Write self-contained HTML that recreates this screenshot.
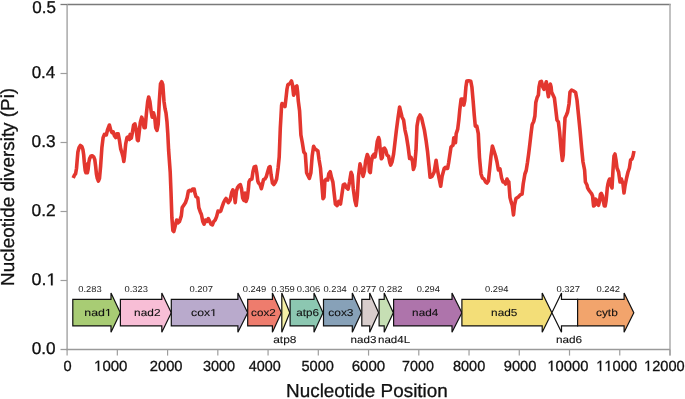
<!DOCTYPE html>
<html><head><meta charset="utf-8"><style>
html,body{margin:0;padding:0;background:#fff;width:685px;height:399px;overflow:hidden}
svg{display:block;will-change:transform}
text{font-family:"Liberation Sans",sans-serif;fill:#111;text-rendering:geometricPrecision;font-kerning:none}
.g1 path{fill:#111}
.gv path{fill:#222}
.gl{fill:#111;stroke:#111;stroke-width:0.1px}
.yt,.xt,.at{stroke:#111;stroke-width:0.3px}
.gv{fill:#222}
</style></head><body>
<svg width="685" height="399" viewBox="0 0 685 399">
<line x1="67.1" y1="4.5" x2="670.7" y2="4.5" stroke="#7a7a7a" stroke-width="1.3"/>
<line x1="67.1" y1="3.9" x2="67.1" y2="350.2" stroke="#a2a2a2" stroke-width="1.4"/>
<line x1="670.0" y1="3.9" x2="670.0" y2="355.6" stroke="#acacac" stroke-width="1.5"/>
<line x1="66.39999999999999" y1="349.5" x2="670.0" y2="349.5" stroke="#9a9a9a" stroke-width="1.4"/>
<line x1="60.5" y1="349.50" x2="67.1" y2="349.50" stroke="#9a9a9a" stroke-width="1.3"/>
<text transform="translate(31.63,354.30) scale(1.007,1)" class="yt" style="font-size:17.1px">0.0</text>
<line x1="60.5" y1="280.50" x2="67.1" y2="280.50" stroke="#9e9e9e" stroke-width="1.2"/>
<g transform="translate(31.60,285.30) scale(1.046,1)" class="yt g1" style="font-size:17.1px"><text x="0.000" y="0">0.</text><path d="M18.561,0.000 L18.561,-10.328 L15.906,-8.433 L15.906,-9.853 L18.686,-11.765 L20.072,-11.765 L20.072,0.000 Z"/></g>
<line x1="60.5" y1="211.50" x2="67.1" y2="211.50" stroke="#9e9e9e" stroke-width="1.2"/>
<text transform="translate(31.62,216.30) scale(1.016,1)" class="yt" style="font-size:17.1px">0.2</text>
<line x1="60.5" y1="142.50" x2="67.1" y2="142.50" stroke="#9e9e9e" stroke-width="1.2"/>
<text transform="translate(31.62,147.30) scale(1.011,1)" class="yt" style="font-size:17.1px">0.3</text>
<line x1="60.5" y1="73.50" x2="67.1" y2="73.50" stroke="#9e9e9e" stroke-width="1.2"/>
<text transform="translate(31.64,78.30) scale(0.995,1)" class="yt" style="font-size:17.1px">0.4</text>
<line x1="60.5" y1="4.50" x2="67.1" y2="4.50" stroke="#7a7a7a" stroke-width="1.3"/>
<text transform="translate(32.23,12.90) scale(0.996,1)" class="yt" style="font-size:17.1px">0.5</text>
<line x1="67.10" y1="349.5" x2="67.10" y2="355.6" stroke="#9e9e9e" stroke-width="1.2"/>
<line x1="117.34" y1="349.5" x2="117.34" y2="355.6" stroke="#9e9e9e" stroke-width="1.2"/>
<line x1="167.58" y1="349.5" x2="167.58" y2="355.6" stroke="#9e9e9e" stroke-width="1.2"/>
<line x1="217.82" y1="349.5" x2="217.82" y2="355.6" stroke="#9e9e9e" stroke-width="1.2"/>
<line x1="268.07" y1="349.5" x2="268.07" y2="355.6" stroke="#9e9e9e" stroke-width="1.2"/>
<line x1="318.31" y1="349.5" x2="318.31" y2="355.6" stroke="#9e9e9e" stroke-width="1.2"/>
<line x1="368.55" y1="349.5" x2="368.55" y2="355.6" stroke="#9e9e9e" stroke-width="1.2"/>
<line x1="418.79" y1="349.5" x2="418.79" y2="355.6" stroke="#9e9e9e" stroke-width="1.2"/>
<line x1="469.03" y1="349.5" x2="469.03" y2="355.6" stroke="#9e9e9e" stroke-width="1.2"/>
<line x1="519.27" y1="349.5" x2="519.27" y2="355.6" stroke="#9e9e9e" stroke-width="1.2"/>
<line x1="569.52" y1="349.5" x2="569.52" y2="355.6" stroke="#9e9e9e" stroke-width="1.2"/>
<line x1="619.76" y1="349.5" x2="619.76" y2="355.6" stroke="#9e9e9e" stroke-width="1.2"/>
<line x1="670.00" y1="349.5" x2="670.00" y2="355.6" stroke="#9e9e9e" stroke-width="1.2"/>
<text transform="translate(63.53,370.90)" class="xt" style="font-size:14.6px">0</text>
<g transform="translate(94.05,370.90) scale(1.029,1)" class="xt g1" style="font-size:14.6px"><path d="M3.671,0.000 L3.671,-8.818 L1.404,-7.200 L1.404,-8.412 L3.778,-10.045 L4.962,-10.045 L4.962,0.000 Z"/><text x="8.120" y="0">000</text></g>
<text transform="translate(149.76,370.90) scale(1.010,1)" class="xt" style="font-size:14.6px">2000</text>
<text transform="translate(202.95,370.90) scale(0.992,1)" class="xt" style="font-size:14.6px">3000</text>
<text transform="translate(248.67,370.90) scale(0.985,1)" class="xt" style="font-size:14.6px">4000</text>
<text transform="translate(301.41,370.90)" class="xt" style="font-size:14.6px">5000</text>
<text transform="translate(351.63,370.90) scale(1.033,1)" class="xt" style="font-size:14.6px">6000</text>
<text transform="translate(402.06,370.90) scale(0.982,1)" class="xt" style="font-size:14.6px">7000</text>
<text transform="translate(452.97,370.90) scale(0.994,1)" class="xt" style="font-size:14.6px">8000</text>
<text transform="translate(503.71,370.90) scale(1.006,1)" class="xt" style="font-size:14.6px">9000</text>
<g transform="translate(547.38,370.90) scale(1.010,1)" class="xt g1" style="font-size:14.6px"><path d="M3.671,0.000 L3.671,-8.818 L1.404,-7.200 L1.404,-8.412 L3.778,-10.045 L4.962,-10.045 L4.962,0.000 Z"/><text x="8.120" y="0">0000</text></g>
<g transform="translate(596.19,370.90) scale(1.007,1)" class="xt g1" style="font-size:14.6px"><path d="M3.671,0.000 L3.671,-8.818 L1.404,-7.200 L1.404,-8.412 L3.778,-10.045 L4.962,-10.045 L4.962,0.000 Z"/><path d="M11.791,0.000 L11.791,-8.818 L9.524,-7.200 L9.524,-8.412 L11.898,-10.045 L13.082,-10.045 L13.082,0.000 Z"/><text x="16.240" y="0">000</text></g>
<g transform="translate(644.10,370.90)" class="xt g1" style="font-size:14.6px"><path d="M3.671,0.000 L3.671,-8.818 L1.404,-7.200 L1.404,-8.412 L3.778,-10.045 L4.962,-10.045 L4.962,0.000 Z"/><text x="8.120" y="0">2000</text></g>
<path d="M72.8,299.3 L111.0,299.3 L111.0,293.1 L120.3,312.65 L111.0,332.3 L111.0,325.9 L72.8,325.9 Z" fill="#a8cc74" stroke="#111" stroke-width="1.2" stroke-linejoin="miter"/>
<path d="M120.4,299.3 L161.8,299.3 L161.8,293.1 L171.3,312.65 L161.8,332.3 L161.8,325.9 L120.4,325.9 Z" fill="#f8bed6" stroke="#111" stroke-width="1.2" stroke-linejoin="miter"/>
<path d="M171.3,299.3 L237.9,299.3 L237.9,293.1 L247.7,312.65 L237.9,332.3 L237.9,325.9 L171.3,325.9 Z" fill="#b9aacc" stroke="#111" stroke-width="1.2" stroke-linejoin="miter"/>
<path d="M247.7,299.3 L272.4,299.3 L272.4,293.1 L281.4,312.65 L272.4,332.3 L272.4,325.9 L247.7,325.9 Z" fill="#ee7c6d" stroke="#111" stroke-width="1.2" stroke-linejoin="miter"/>
<path d="M281.8,293.1 L289.8,312.65 L281.8,332.3 Z" fill="#f4efa6" stroke="#111" stroke-width="1.2" stroke-linejoin="miter"/>
<path d="M290.1,299.3 L314.0,299.3 L314.0,293.1 L323.0,312.65 L314.0,332.3 L314.0,325.9 L290.1,325.9 Z" fill="#8cc7b1" stroke="#111" stroke-width="1.2" stroke-linejoin="miter"/>
<path d="M323.5,299.3 L352.3,299.3 L352.3,293.1 L361.4,312.65 L352.3,332.3 L352.3,325.9 L323.5,325.9 Z" fill="#87a1b8" stroke="#111" stroke-width="1.2" stroke-linejoin="miter"/>
<path d="M361.8,299.3 L369.7,299.3 L369.7,293.1 L378.6,312.65 L369.7,332.3 L369.7,325.9 L361.8,325.9 Z" fill="#d8cdcc" stroke="#111" stroke-width="1.2" stroke-linejoin="miter"/>
<path d="M379.1,299.3 L384.2,299.3 L384.2,293.1 L393.3,312.65 L384.2,332.3 L384.2,325.9 L379.1,325.9 Z" fill="#c6dfb4" stroke="#111" stroke-width="1.2" stroke-linejoin="miter"/>
<path d="M393.6,299.3 L452.0,299.3 L452.0,293.1 L461.9,312.65 L452.0,332.3 L452.0,325.9 L393.6,325.9 Z" fill="#ae74ab" stroke="#111" stroke-width="1.2" stroke-linejoin="miter"/>
<path d="M461.9,299.3 L542.2,299.3 L542.2,293.1 L551.9,312.65 L542.2,332.3 L542.2,325.9 L461.9,325.9 Z" fill="#f3de78" stroke="#111" stroke-width="1.2" stroke-linejoin="miter"/>
<path d="M551.9,312.65 L561.5,293.1 L561.5,299.3 L577.6,299.3 L577.6,325.9 L561.5,325.9 L561.5,332.3 Z" fill="#fff" stroke="#111" stroke-width="1.2"/>
<path d="M577.6,299.3 L624.1,299.3 L624.1,293.1 L633.8,312.65 L624.1,332.3 L624.1,325.9 L577.6,325.9 Z" fill="#f2a46c" stroke="#111" stroke-width="1.2" stroke-linejoin="miter"/>
<g transform="translate(84.28,316.00) scale(1.224,1)" class="gl g1" style="font-size:10.1px"><text x="0.000" y="0">nad</text><path d="M19.391,0.000 L19.391,-6.100 L17.823,-4.981 L17.823,-5.819 L19.465,-6.949 L20.284,-6.949 L20.284,0.000 Z"/></g>
<text transform="translate(134.11,316.00) scale(1.174,1)" class="gl" style="font-size:10.1px">nad2</text>
<g transform="translate(191.08,316.10) scale(1.213,1)" class="gl g1" style="font-size:10.1px"><text x="0.000" y="0">cox</text><path d="M18.257,0.000 L18.257,-6.100 L16.689,-4.981 L16.689,-5.819 L18.331,-6.949 L19.150,-6.949 L19.150,0.000 Z"/></g>
<text transform="translate(251.11,316.10) scale(1.152,1)" class="gl" style="font-size:10.1px">cox2</text>
<text transform="translate(296.30,315.70) scale(1.155,1)" class="gl" style="font-size:10.1px">atp6</text>
<text transform="translate(328.29,316.00) scale(1.183,1)" class="gl" style="font-size:10.1px">cox3</text>
<text transform="translate(412.12,316.00) scale(1.163,1)" class="gl" style="font-size:10.1px">nad4</text>
<text transform="translate(491.12,316.00) scale(1.170,1)" class="gl" style="font-size:10.1px">nad5</text>
<text transform="translate(595.99,315.90) scale(1.177,1)" class="gl" style="font-size:10.1px">cytb</text>
<text transform="translate(273.19,342.70) scale(1.187,1)" class="gl" style="font-size:10.1px">atp8</text>
<text transform="translate(350.53,342.70) scale(1.152,1)" class="gl" style="font-size:10.1px">nad3</text>
<text transform="translate(378.03,342.70) scale(1.141,1)" class="gl" style="font-size:10.1px">nad4L</text>
<text transform="translate(555.92,342.80) scale(1.166,1)" class="gl" style="font-size:10.1px">nad6</text>
<text transform="translate(78.23,291.50) scale(1.091,1)" class="gv" style="font-size:8.6px">0.283</text>
<text transform="translate(124.43,291.50) scale(1.091,1)" class="gv" style="font-size:8.6px">0.323</text>
<text transform="translate(189.43,291.50) scale(1.094,1)" class="gv" style="font-size:8.6px">0.207</text>
<text transform="translate(242.73,291.50) scale(1.093,1)" class="gv" style="font-size:8.6px">0.249</text>
<text transform="translate(271.33,291.50) scale(1.093,1)" class="gv" style="font-size:8.6px">0.359</text>
<text transform="translate(296.73,291.50) scale(1.091,1)" class="gv" style="font-size:8.6px">0.306</text>
<text transform="translate(323.44,291.50) scale(1.084,1)" class="gv" style="font-size:8.6px">0.234</text>
<text transform="translate(352.73,291.50) scale(1.094,1)" class="gv" style="font-size:8.6px">0.277</text>
<text transform="translate(378.93,291.50) scale(1.094,1)" class="gv" style="font-size:8.6px">0.282</text>
<text transform="translate(416.64,291.50) scale(1.084,1)" class="gv" style="font-size:8.6px">0.294</text>
<text transform="translate(485.04,291.50) scale(1.084,1)" class="gv" style="font-size:8.6px">0.294</text>
<text transform="translate(556.43,291.50) scale(1.094,1)" class="gv" style="font-size:8.6px">0.327</text>
<text transform="translate(596.43,291.50) scale(1.094,1)" class="gv" style="font-size:8.6px">0.242</text>
<path d="M73.2,178.0 L74.4,175.3 L75.6,173.6 L76.5,168.5 L77.2,160.0 L77.9,152.0 L79.0,147.8 L80.4,145.5 L81.8,146.4 L82.9,149.5 L83.7,155.0 L84.3,162.5 L85.2,170.4 L85.9,172.7 L86.3,164.0 L86.8,172.1 L87.4,172.7 L88.1,169.3 L88.8,162.5 L89.6,158.6 L90.8,156.3 L92.2,155.8 L93.7,156.9 L94.8,159.7 L95.6,165.9 L96.4,173.8 L97.3,178.3 L98.4,181.1 L99.5,178.3 L100.6,166.3 L101.9,147.5 L103.1,137.6 L104.4,134.4 L106.3,135.0 L107.5,130.0 L109.4,125.0 L110.7,130.0 L111.9,132.6 L113.2,131.9 L114.4,135.7 L115.7,137.6 L116.9,133.8 L118.2,133.8 L119.4,140.1 L120.7,148.9 L121.9,152.6 L123.2,157.6 L123.8,161.4 L124.5,156.4 L125.7,143.8 L127.0,137.6 L128.2,136.9 L129.5,139.5 L130.1,134.4 L131.3,138.2 L132.4,132.6 L133.6,125.0 L134.9,123.8 L136.1,128.8 L137.4,140.1 L138.2,140.7 L138.9,134.8 L140.3,122.5 L141.7,117.2 L142.9,120.7 L144.1,127.7 L145.2,127.7 L146.4,113.7 L147.7,101.4 L148.7,97.0 L149.9,101.4 L151.2,111.9 L152.2,117.2 L153.5,112.8 L154.7,117.2 L155.7,127.7 L157.0,130.4 L158.2,124.2 L159.3,101.4 L160.5,83.8 L161.7,81.7 L162.8,84.7 L164.0,101.4 L165.0,108.5 L166.0,113.0 L167.0,122.0 L167.8,134.0 L168.6,150.0 L170.2,172.0 L171.0,192.0 L171.9,218.0 L172.9,230.5 L173.8,231.5 L175.3,225.5 L176.7,220.0 L178.1,222.8 L179.5,221.4 L181.3,215.9 L182.2,207.6 L183.6,205.5 L185.4,202.8 L187.1,197.9 L188.4,191.0 L189.8,190.3 L191.2,191.0 L192.6,189.0 L194.2,189.0 L195.1,193.8 L196.0,196.6 L197.8,197.9 L198.8,207.6 L200.2,211.7 L201.4,214.5 L202.8,221.4 L204.1,224.2 L205.5,220.0 L206.9,221.4 L208.3,218.7 L209.7,221.4 L211.0,224.2 L212.4,224.9 L213.8,221.4 L215.2,220.0 L216.6,216.6 L218.0,211.1 L219.3,211.8 L220.7,211.1 L222.1,206.9 L223.5,202.8 L224.9,200.0 L226.0,198.5 L228.3,202.6 L230.0,200.3 L231.8,192.2 L232.9,189.9 L234.1,193.4 L235.2,202.6 L236.4,191.1 L237.5,187.6 L239.2,185.3 L240.4,184.7 L241.5,188.8 L242.7,198.0 L243.8,200.3 L245.0,193.0 L246.1,201.4 L247.3,198.0 L248.4,188.8 L249.0,181.9 L250.2,179.6 L251.9,179.0 L253.0,171.5 L254.2,166.9 L255.7,166.3 L256.8,172.7 L257.8,181.0 L258.6,183.1 L260.0,184.5 L261.4,188.7 L262.4,184.5 L263.5,179.7 L264.9,179.0 L266.2,176.9 L267.6,172.1 L269.0,167.3 L270.1,166.6 L271.1,174.9 L272.5,183.1 L273.8,184.5 L275.2,182.5 L276.6,179.0 L278.1,168.0 L279.2,157.0 L280.3,128.0 L281.0,116.0 L281.6,105.1 L282.0,103.6 L283.5,104.6 L285.0,106.6 L286.0,98.1 L287.0,89.0 L287.8,85.0 L289.0,84.0 L290.0,83.5 L291.5,81.0 L292.5,85.0 L293.6,95.1 L294.6,93.1 L295.6,87.0 L296.9,86.0 L297.6,92.0 L298.3,101.1 L299.6,111.1 L300.9,135.0 L302.3,142.5 L303.8,152.0 L305.3,153.8 L306.6,172.7 L307.9,175.5 L309.4,178.3 L310.9,172.7 L312.2,155.7 L313.6,146.3 L315.1,149.1 L316.6,150.1 L317.9,151.0 L319.1,160.0 L320.5,168.3 L321.9,184.8 L323.0,198.6 L324.0,197.2 L324.9,180.7 L326.0,179.3 L327.7,180.0 L328.8,173.8 L330.2,171.7 L331.6,177.9 L332.9,182.1 L334.3,194.5 L335.4,204.1 L337.1,205.5 L338.7,201.4 L340.5,204.1 L341.9,194.5 L343.3,184.8 L344.7,184.1 L346.4,187.6 L348.1,189.0 L349.5,182.1 L351.1,172.4 L352.2,175.2 L353.3,189.0 L354.9,200.6 L356.2,205.5 L357.3,195.7 L358.5,176.1 L360.0,163.9 L361.3,168.9 L363.1,176.4 L364.4,171.4 L365.6,161.3 L367.3,154.5 L368.5,157.6 L369.4,171.4 L370.3,172.6 L371.3,162.6 L372.5,156.3 L373.8,154.5 L375.0,157.0 L376.0,151.3 L377.3,141.3 L378.6,137.5 L379.4,140.0 L380.3,151.3 L381.3,158.8 L382.3,157.6 L383.2,148.8 L384.5,148.2 L385.7,150.1 L387.0,155.1 L388.6,156.3 L389.8,162.6 L390.7,165.1 L392.0,162.1 L393.6,154.1 L395.0,142.1 L396.4,130.1 L398.0,118.0 L399.6,107.0 L400.8,112.0 L402.0,117.0 L403.6,120.0 L405.0,130.1 L406.4,136.1 L408.0,146.1 L409.6,158.5 L411.1,157.5 L412.5,161.5 L413.4,169.5 L414.6,166.0 L416.0,150.2 L417.0,126.1 L418.4,118.0 L420.0,115.0 L421.6,118.0 L423.0,124.1 L424.4,130.1 L426.0,140.1 L427.6,152.1 L429.0,166.1 L430.1,177.3 L432.1,176.3 L434.1,172.2 L436.1,160.2 L437.5,170.2 L439.1,178.3 L440.7,186.3 L442.1,176.3 L444.2,168.5 L445.4,167.3 L446.6,168.5 L447.6,168.5 L448.6,163.0 L449.8,155.0 L451.0,147.0 L453.0,145.2 L453.8,137.7 L455.5,142.7 L456.2,133.6 L457.7,129.1 L458.8,120.1 L459.8,109.6 L461.1,99.1 L462.6,99.1 L463.8,105.1 L464.8,100.6 L465.9,87.0 L466.8,81.0 L468.6,80.7 L470.8,81.3 L471.9,87.0 L473.1,100.6 L474.3,115.6 L475.3,126.1 L476.8,126.1 L478.3,133.6 L479.5,157.6 L481.0,174.0 L482.4,178.0 L484.0,179.0 L485.6,182.0 L487.0,183.0 L488.4,181.0 L489.6,170.0 L491.0,156.0 L492.4,146.0 L494.0,151.0 L495.6,156.0 L497.0,162.0 L498.4,170.0 L500.0,169.0 L501.6,178.0 L503.0,182.0 L504.4,182.0 L505.6,184.0 L507.0,179.0 L508.4,182.0 L508.8,181.8 L510.0,197.6 L511.2,202.1 L512.3,205.5 L513.5,214.9 L514.5,205.1 L516.0,198.4 L518.3,196.9 L520.6,194.6 L522.1,194.0 L523.2,184.0 L524.9,174.0 L526.2,170.5 L527.5,162.3 L528.6,154.2 L529.8,144.4 L531.1,133.0 L532.2,124.5 L533.7,121.5 L534.9,116.0 L535.8,102.5 L537.1,97.6 L538.4,95.0 L539.0,87.1 L540.1,81.9 L541.4,81.3 L542.8,87.0 L543.9,89.3 L545.1,85.5 L546.3,81.8 L547.3,90.0 L548.4,96.8 L549.3,90.0 L550.3,84.0 L551.1,87.0 L551.6,92.0 L553.0,95.0 L554.4,98.0 L555.6,108.0 L557.0,120.0 L558.4,122.0 L559.6,132.0 L561.2,150.0 L562.4,160.5 L563.3,155.0 L564.0,136.0 L565.0,118.0 L566.4,115.0 L567.6,112.0 L569.0,104.0 L570.0,92.0 L571.6,90.0 L573.6,91.0 L575.6,92.4 L577.0,100.0 L578.4,114.0 L580.0,130.0 L581.6,148.0 L583.0,162.0 L584.6,170.0 L585.4,182.0 L587.0,185.0 L587.6,187.9 L589.0,190.2 L590.3,192.0 L591.7,193.8 L592.6,196.1 L593.0,200.6 L593.6,206.0 L594.4,205.5 L595.3,199.0 L596.2,199.7 L597.4,204.2 L598.5,205.3 L599.5,201.5 L600.4,194.5 L601.3,193.4 L602.5,196.1 L603.4,201.5 L604.3,206.0 L605.2,206.0 L606.1,200.6 L606.8,193.4 L607.3,187.9 L607.9,184.3 L608.8,180.7 L609.6,179.0 L610.6,184.0 L612.0,188.0 L613.0,170.0 L614.0,156.0 L615.0,154.0 L616.0,160.0 L617.0,168.0 L618.6,172.0 L620.0,182.0 L621.4,179.0 L623.0,184.0 L624.0,193.0 L625.0,186.0 L626.6,178.0 L628.0,172.0 L629.4,168.0 L630.6,160.0 L632.0,159.0 L633.0,156.0 L634.0,151.0" fill="none" stroke="#e3362f" stroke-width="3.6" stroke-linejoin="round" stroke-linecap="butt"/>
<text transform="translate(286.05,397.30) scale(1.006,1)" class="at" style="font-size:18.8px">Nucleotide Position</text>
<text transform="translate(14.0,285.95) rotate(-90) scale(1.004,1)" class="at" style="font-size:18.8px">Nucleotide diversity (Pi)</text>
</svg>
</body></html>
